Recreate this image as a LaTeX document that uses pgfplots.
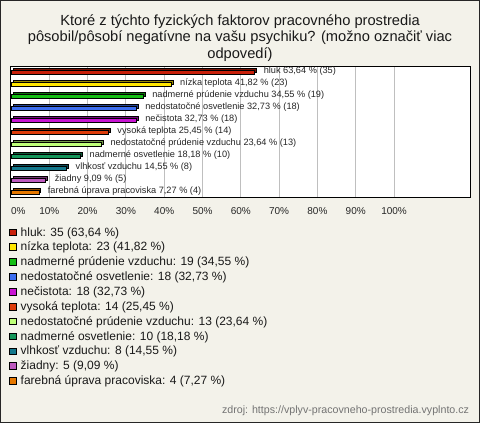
\documentclass[border=0pt]{standalone}
\usepackage{pgfplots}
\pgfplotsset{compat=1.18}
\usepackage{fontspec}
\setmainfont{Liberation Sans}
\definecolor{bg}{RGB}{243,242,234}
\definecolor{c0}{RGB}{200,32,10}
\definecolor{c1}{RGB}{255,230,0}
\definecolor{c2}{RGB}{20,190,20}
\definecolor{c3}{RGB}{60,110,240}
\definecolor{c4}{RGB}{200,20,210}
\definecolor{c5}{RGB}{222,60,10}
\definecolor{c6}{RGB}{190,255,120}
\definecolor{c7}{RGB}{20,150,90}
\definecolor{c8}{RGB}{20,120,140}
\definecolor{c9}{RGB}{190,90,190}
\definecolor{c10}{RGB}{230,120,0}
\newcommand{\mybar}[5]{%
  \addplot[xbar, bar width=3.2pt, bar shift=0pt, fill=#3!60!black, draw=black, line width=0.5pt, forget plot, xshift=1.4pt, yshift=1.4pt] coordinates {(#1,#2)};
  \addplot[xbar, bar width=3.2pt, bar shift=0pt, fill=#3, draw=black, line width=0.5pt, nodes near coords={#4}] coordinates {(#1,#2)};
  \addlegendentry{\hspace{3pt}#5}
}
\begin{document}
\begin{tikzpicture}
\useasboundingbox (0,0) rectangle (360pt,-317.25pt);
\draw[fill=bg, draw=black!85, line width=0.75pt] (0.375pt,-0.375pt) rectangle (359.625pt,-316.875pt);
\node[anchor=north, align=center, inner sep=0pt, font=\fontsize{11}{12.4}\selectfont, text=black!90] at (180pt,-10.5pt)
  {Ktoré z týchto fyzických faktorov pracovného prostredia\\pôsobil/pôsobí negatívne na vašu psychiku? (možno označiť viac\\odpovedí)};
\begin{axis}[
  at={(8.25pt,-148.5pt)}, anchor=south west,
  scale only axis, width=344.75pt, height=98.25pt,
  xmin=0, xmax=120, ymin=-0.46, ymax=10.46, y dir=reverse,
  ytick=\empty,
  xtick={0,10,...,100},
  xticklabels={\phantom{0\%}0\%,10\%,20\%,30\%,40\%,50\%,60\%,70\%,80\%,90\%,100\%},
  xticklabel style={anchor=north, inner sep=0pt, yshift=-7pt, font=\fontsize{7.5}{9}\selectfont, text=black!85},
  major tick length=0pt,
  xmajorgrids, major grid style={draw=black!25, line width=0.75pt},
  axis line style={line width=0.75pt},
  axis background/.style={fill=white},
  every node near coord/.append style={anchor=west, inner sep=0pt, xshift=6.5pt, yshift=1.3pt, font=\fontsize{6.9}{8}\selectfont, text=black!85},
  legend image code/.code={\filldraw[fill=none, draw=none] (0pt,-2.3pt) rectangle (5.6pt,3.3pt); \draw[#1, draw=black, line width=0.6pt] (0.3pt,-2.0pt) rectangle (5.3pt,3.0pt);},
  legend style={at={(-0.0044,-0.217)}, anchor=north west, draw=none, fill=none, inner sep=0pt, row sep=1.65pt, column sep=0pt,
    font=\fontsize{9}{10}\selectfont, text=black!90,
    nodes={inner sep=0pt, text height=7pt, text depth=2.5pt}},
  legend cell align=left,
  clip=false,
]
\mybar{63.64}{0}{c0}{hluk 63,64 \% (35)}{hluk: 35 (63,64 \%)}
\mybar{41.82}{1}{c1}{nízka teplota 41,82 \% (23)}{nízka teplota: 23 (41,82 \%)}
\mybar{34.55}{2}{c2}{nadmerné prúdenie vzduchu 34,55 \% (19)}{nadmerné prúdenie vzduchu: 19 (34,55 \%)}
\mybar{32.73}{3}{c3}{nedostatočné osvetlenie 32,73 \% (18)}{nedostatočné osvetlenie: 18 (32,73 \%)}
\mybar{32.73}{4}{c4}{nečistota 32,73 \% (18)}{nečistota: 18 (32,73 \%)}
\mybar{25.45}{5}{c5}{vysoká teplota 25,45 \% (14)}{vysoká teplota: 14 (25,45 \%)}
\mybar{23.64}{6}{c6}{nedostatočné prúdenie vzduchu 23,64 \% (13)}{nedostatočné prúdenie vzduchu: 13 (23,64 \%)}
\mybar{18.18}{7}{c7}{nadmerné osvetlenie 18,18 \% (10)}{nadmerné osvetlenie: 10 (18,18 \%)}
\mybar{14.55}{8}{c8}{vlhkosť vzduchu 14,55 \% (8)}{vlhkosť vzduchu: 8 (14,55 \%)}
\mybar{9.09}{9}{c9}{žiadny 9,09 \% (5)}{žiadny: 5 (9,09 \%)}
\mybar{7.27}{10}{c10}{farebná úprava pracoviska 7,27 \% (4)}{farebná úprava pracoviska: 4 (7,27 \%)}
\end{axis}
\node[anchor=east, inner sep=0pt, font=\fontsize{8}{9}\selectfont, text=black!55] at (352pt,-308.25pt)
  {zdroj: https://vplyv-pracovneho-prostredia.vyplnto.cz};
\end{tikzpicture}
\end{document}
